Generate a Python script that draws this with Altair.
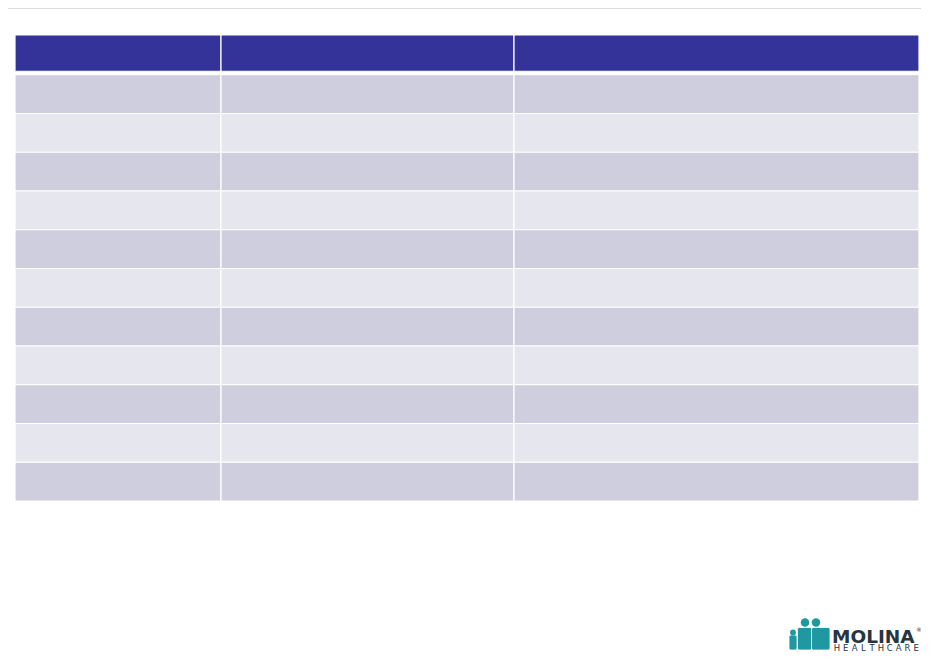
import altair as alt
import pandas as pd

# empty three-column table: header + 11 banded rows
columns = ["Column 1", "Column 2", "Column 3"]
col_widths = [206, 293, 405]
n_rows = 11

header_color = "#34339a"
band_colors = {"odd": "#cecedf", "even": "#e6e7ee"}

records = []
left = 0
for c, w in zip(columns, col_widths):
    records.append({"col": c, "x0": left, "x1": left + w, "y0": 0, "y1": 1, "kind": "header"})
    for r in range(1, n_rows + 1):
        kind = "odd" if r % 2 else "even"
        records.append({"col": c, "x0": left, "x1": left + w, "y0": r, "y1": r + 1, "kind": kind})
    left += w
df = pd.DataFrame(records)

W, H = 913, 647
x_scale = alt.Scale(domain=[0, sum(col_widths)], range=[7, 911])
y_scale = alt.Scale(domain=[0, n_rows + 1], range=[28, 493])

base = alt.Chart(df).encode(
    x=alt.X("x0:Q", scale=x_scale, axis=None),
    x2="x1:Q",
    y=alt.Y("y0:Q", scale=y_scale, axis=None),
    y2="y1:Q",
)

header = base.transform_filter(alt.datum.kind == "header").mark_rect(
    color=header_color, stroke="white", strokeWidth=1.2, yOffset=-1, y2Offset=-3.5
)
body = base.transform_filter(alt.datum.kind != "header").mark_rect(
    stroke="white", strokeWidth=1.2
).encode(
    color=alt.Color("kind:N", scale=alt.Scale(domain=list(band_colors), range=list(band_colors.values())), legend=None)
)

one = pd.DataFrame({"k": [0]})
top_line = alt.Chart(one).mark_rule(color="#dcdcdc", strokeWidth=1).encode(
    x=alt.value(0), x2=alt.value(913), y=alt.value(0.5)
)

# logo: three figures + wordmark (pixel scales)
px_x = alt.Scale(domain=[0, W], range=[0, W])
px_y = alt.Scale(domain=[0, H], range=[0, H])
teal = "#1f98a1"
ink = "#263540"

heads = pd.DataFrame({"hx": [785, 797, 808], "hy": [624.5, 614.5, 614.5], "hs": [34, 72, 72]})
head_marks = alt.Chart(heads).mark_circle(color=teal, opacity=1).encode(
    x=alt.X("hx:Q", scale=px_x, axis=None),
    y=alt.Y("hy:Q", scale=px_y, axis=None),
    size=alt.Size("hs:Q", scale=None, legend=None),
)
bodies = pd.DataFrame({"bx0": [781, 789.5, 803.5], "bx1": [789, 804, 822], "by0": [627, 619.5, 619.5], "by1": [642, 642, 642]})
body_marks = alt.Chart(bodies).mark_rect(color=teal, stroke="white", strokeWidth=0.8, cornerRadius=2).encode(
    x=alt.X("bx0:Q", scale=px_x, axis=None),
    x2="bx1:Q",
    y=alt.Y("by0:Q", scale=px_y, axis=None),
    y2="by1:Q",
)
molina = alt.Chart(one).mark_text(
    text="MOLINA", font="DejaVu Sans", fontSize=18.5, fontWeight="bold", color=ink,
    align="left", baseline="alphabetic"
).encode(x=alt.value(824), y=alt.value(635))
reg = alt.Chart(one).mark_text(
    text="®", font="DejaVu Sans", fontSize=6, color=ink, align="left", baseline="alphabetic"
).encode(x=alt.value(908), y=alt.value(624))

hc_letters = list("HEALTHCARE")
hc = pd.DataFrame({"ch": hc_letters, "i": range(len(hc_letters))})
healthcare = alt.Chart(hc).transform_calculate(
    cx="829 + 8.8 * datum.i"
).mark_text(
    font="DejaVu Sans", fontSize=8.5, color=ink, align="center", baseline="alphabetic"
).encode(
    x=alt.X("cx:Q", scale=px_x, axis=None),
    y=alt.value(643),
    text="ch:N",
)

chart = alt.layer(
    top_line, header, body, body_marks, head_marks, molina, reg, healthcare
).resolve_scale(x="independent", y="independent").properties(
    width=W, height=H, padding=0, autosize=alt.AutoSizeParams(type="none")
).configure_view(stroke=None)

chart.save("out.html", embed_options={"renderer": "svg", "actions": False})
